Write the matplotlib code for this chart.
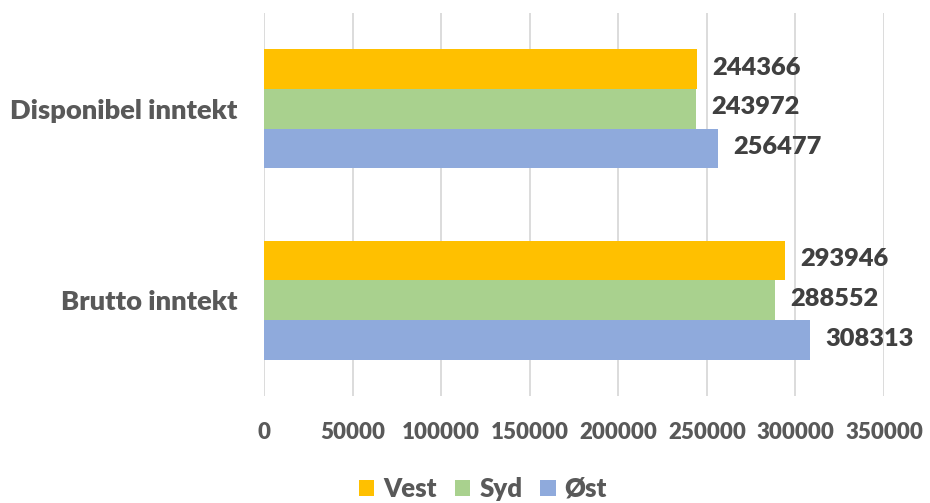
import matplotlib
matplotlib.use("Agg")
import matplotlib.pyplot as plt
import numpy as np

# Data
categories = ["Disponibel inntekt", "Brutto inntekt"]
series = ["Vest", "Syd", "Øst"]
vest = [244366, 293946]
syd = [243972, 288552]
ost = [256477, 308313]
colors = ["#FFC000", "#A9D18E", "#8FAADC"]
xticks = [0, 50000, 100000, 150000, 200000, 250000, 300000, 350000]

plt.rcParams.update({"font.family": ["Lato", "DejaVu Sans"], "font.weight": "heavy"})
TXT = "#595959"
LBL = "#404040"

fig = plt.figure(figsize=(9.3, 5.03), dpi=100)
ax = fig.add_axes([264 / 930, 107 / 503, 620 / 930, 383 / 503])

y = np.arange(len(categories))
h = 0.207
for i, (name, vals, c) in enumerate(zip(series, [vest, syd, ost], colors)):
    pos = y + (i - 1) * h
    ax.barh(pos, vals, h, color=c, label=name, zorder=2)
    for p, v in zip(pos, vals):
        ax.annotate(f"{v}", xy=(v, p), xytext=(11, 1), textcoords="offset points",
                    ha="left", va="center", fontsize=18.3, fontweight="heavy", color=LBL)

ax.set_xlim(0, 350000)
ax.set_ylim(-0.5, 1.5)
ax.invert_yaxis()
ax.set_xticks(xticks)
ax.set_xticklabels([str(t) for t in xticks])
ax.set_yticks(y)
ax.set_yticklabels(categories)
ax.tick_params(axis="x", length=0, pad=19, labelsize=16, labelcolor=TXT)
ax.tick_params(axis="y", length=0, pad=19, labelsize=19.6, labelcolor=TXT)
for lab in ax.get_xticklabels() + ax.get_yticklabels():
    lab.set_fontweight("heavy")
ax.grid(axis="x", color="#D9D9D9", lw=1.3, zorder=0)
for s in ax.spines.values():
    s.set_visible(False)

leg = fig.legend(loc="center", bbox_to_anchor=(483 / 930, 1 - 489 / 503), ncol=3,
                 frameon=False, handlelength=0.6, handleheight=0.6,
                 handletextpad=0.35, columnspacing=0.7,
                 prop={"size": 18.5, "weight": "heavy"})
for t in leg.get_texts():
    t.set_color(TXT)

fig.savefig("out.png", dpi=100)
